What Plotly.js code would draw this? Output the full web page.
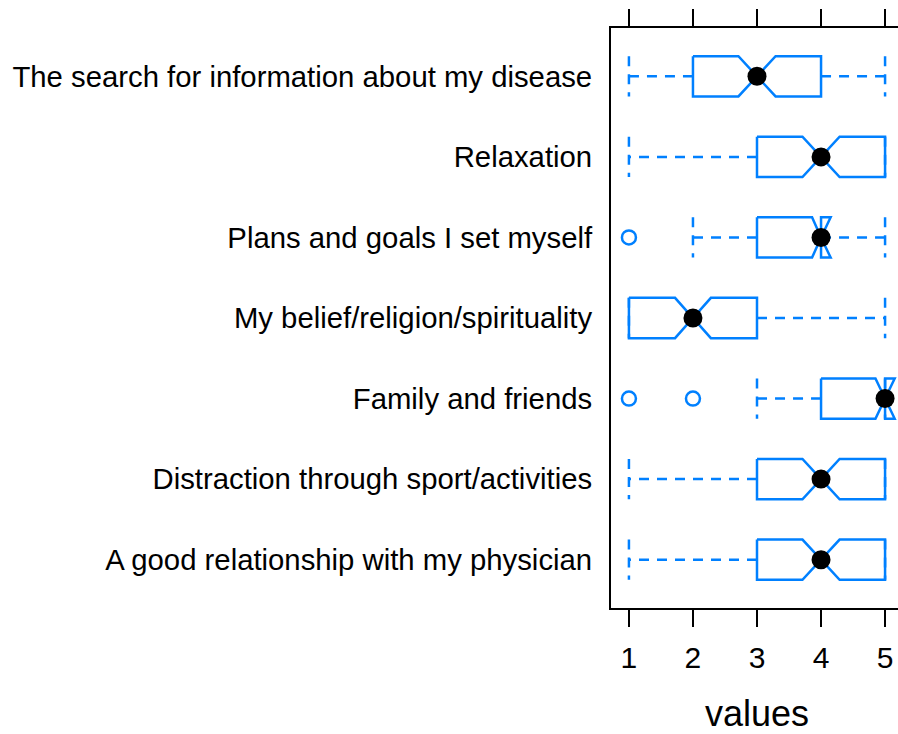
<!DOCTYPE html>
<html>
<head>
<meta charset="utf-8">
<script src="https://cdn.plot.ly/plotly-3.0.1.min.js"></script>
<style>
html, body { margin: 0; padding: 0; overflow: hidden; background: #fff; }
#chart { width: 910px; height: 734px; }
</style>
</head>
<body>
<div id="chart"></div>
<script>
// Categories listed top to bottom
var categories = [
  "The search for information about my disease",
  "Relaxation",
  "Plans and goals I set myself",
  "My belief/religion/spirituality",
  "Family and friends",
  "Distraction through sport/activities",
  "A good relationship with my physician"
];
var whiskerLow  = [1, 1, 2, 1, 3, 1, 1];
var q1          = [2, 3, 3, 1, 4, 3, 3];
var median      = [3, 4, 4, 2, 5, 4, 4];
var q3          = [4, 5, 4, 3, 5, 5, 5];
var whiskerHigh = [5, 5, 5, 5, 5, 5, 5];
var notchLow    = [2.71, 3.71, 3.86, 1.72, 4.85, 3.71, 3.71];
var notchHigh   = [3.29, 4.29, 4.15, 2.28, 5.15, 4.29, 4.29];
var outliers    = [[], [], [1], [], [1, 2], [], []];
var xTicks      = [1, 2, 3, 4, 5];

(function () {
  var BLUE = "#0080ff";
  var HALF = 0.25;   // half box height in category units
  var n = categories.length;
  function ypos(i) { return n - i; }

  var boxX = [], boxY = [], whX = [], whY = [], medX = [], medY = [], outX = [], outY = [];
  for (var i = 0; i < n; i++) {
    var yc = ypos(i), yTop = yc + HALF, yBot = yc - HALF;
    boxX.push(q1[i], notchLow[i], median[i], notchHigh[i], q3[i], q3[i], notchHigh[i], median[i], notchLow[i], q1[i], q1[i], null);
    boxY.push(yTop, yTop, yc, yTop, yTop, yBot, yBot, yc, yBot, yBot, yTop, null);
    // whiskers drawn outward from the box
    whX.push(q1[i], whiskerLow[i], null, q3[i], whiskerHigh[i], null);
    whY.push(yc, yc, null, yc, yc, null);
    // end caps
    whX.push(whiskerLow[i], whiskerLow[i], null, whiskerHigh[i], whiskerHigh[i], null);
    whY.push(yTop, yBot, null, yTop, yBot, null);
    medX.push(median[i]); medY.push(yc);
    for (var k = 0; k < outliers[i].length; k++) { outX.push(outliers[i][k]); outY.push(yc); }
  }

  var traces = [
    { type: "scatter", mode: "lines", x: whX, y: whY, line: { color: BLUE, width: 2.5, dash: "10px,8px" }, hoverinfo: "skip" },
    { type: "scatter", mode: "lines", x: boxX, y: boxY, line: { color: BLUE, width: 2.5 }, hoverinfo: "skip" },
    { type: "scatter", mode: "markers", x: outX, y: outY, marker: { symbol: "circle-open", size: 14, color: BLUE, line: { width: 2.5, color: BLUE } }, hoverinfo: "skip" },
    { type: "scatter", mode: "markers", x: medX, y: medY, marker: { symbol: "circle", size: 19, color: "#000" }, hoverinfo: "skip" }
  ];

  var tickY = [], tickT = [];
  for (var j = 0; j < n; j++) { tickY.push(ypos(j)); tickT.push(categories[j]); }

  var layout = {
    width: 910, height: 734,
    margin: { l: 611, r: 7, t: 28, b: 126 },
    paper_bgcolor: "#fff", plot_bgcolor: "#fff",
    showlegend: false, hovermode: false,
    font: { family: "Liberation Sans, Arial, sans-serif", color: "#000" },
    xaxis: {
      range: [0.72, 5.28], tickmode: "array", tickvals: xTicks, ticktext: xTicks.map(String),
      ticks: "outside", ticklen: 17, tickwidth: 2, tickcolor: "#000",
      showline: true, linewidth: 2, linecolor: "#000", mirror: "ticks",
      showgrid: false, zeroline: false,
      tickfont: { size: 30, color: "#000" }, ticklabelstandoff: 5,
      title: { text: "values", font: { size: 36, color: "#000" }, standoff: 35 },
      automargin: false
    },
    yaxis: {
      range: [0.4, 7.6], tickmode: "array", tickvals: tickY, ticktext: tickT,
      ticks: "", showline: true, linewidth: 2, linecolor: "#000", mirror: false,
      showgrid: false, zeroline: false,
      tickfont: { size: 29.3, color: "#000" }, ticklabelstandoff: 11,
      automargin: false
    }
  };

  Plotly.newPlot("chart", traces, layout, { displayModeBar: false, staticPlot: true });
})();
</script>
</body>
</html>
